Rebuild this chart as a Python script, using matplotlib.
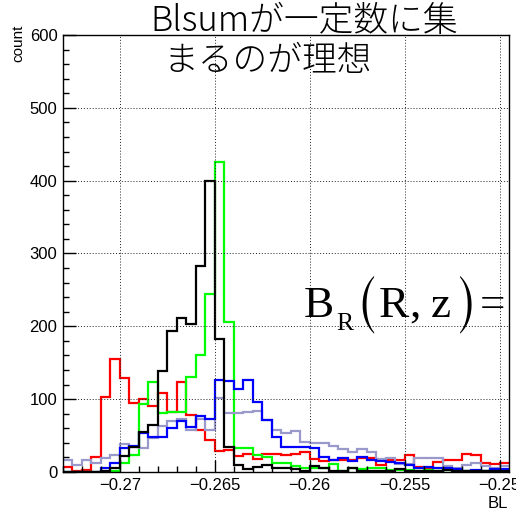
import numpy as np
import matplotlib
matplotlib.use("Agg")
import matplotlib.pyplot as plt
from matplotlib.ticker import MultipleLocator, FuncFormatter

# BL histograms, 0.0005 wide bins from -0.273 to -0.2495
bin_lo, bin_hi = -0.273, -0.2495

red = [7, 1, 3, 21, 103, 155, 129, 95, 100, 90,
       109, 83, 124, 78, 58, 44, 29, 30, 22, 25,
       18, 25, 25, 24, 25, 27, 18,
       15, 17, 17, 16, 19, 19, 10, 16, 17, 24, 7, 6, 14, 16, 16, 25, 24, 13, 11, 12]
green = [0, 0, 0, 0, 0, 1, 12, 23, 93, 123,
         81, 83, 83, 130, 160, 245, 425, 206, 33, 33,
         23, 20, 12, 12, 8, 5, 6,
         5, 11, 2, 5, 4, 6, 5, 3, 3, 3, 2, 3, 2, 3, 1, 2, 1, 2, 3, 1]
black = [0, 0, 0, 0, 1, 5, 22, 35, 55, 64,
         138, 193, 211, 203, 283, 400, 182, 34, 9, 4,
         7, 10, 5, 6, 4, 2, 8,
         6, 1, 1, 5, 2, 1, 1, 1, 4, 1, 1, 1, 1, 3, 1, 1, 2, 1, 1, 1]
blue = [0, 0, 0, 0, 5, 13, 33, 36, 53, 48,
        48, 61, 70, 62, 77, 73, 127, 125, 114, 127,
        96, 71, 48, 35, 34, 35, 33,
        21, 17, 19, 15, 21, 17, 15, 14, 12, 9, 6, 7, 6, 5, 4, 1, 3, 2, 4, 4]
lavender = [16, 9, 17, 12, 19, 23, 38, 34, 33, 47,
            63, 70, 73, 58, 73, 58, 101, 81, 81, 83,
            84, 71, 57, 53, 56, 41, 40,
            40, 36, 31, 27, 32, 28, 18, 19, 11, 11, 19, 19, 19, 8, 6, 10, 12, 8, 6, 8]

series = [(red, "#ff0000"), (green, "#00ff00"), (lavender, "#9999cc"),
          (blue, "#0000ff"), (black, "#000000")]

title_1 = "Blsumが一定数に集"
title_2 = "まるのが理想"

# formula pieces: text, font, left x (px), baseline y (px), size (pt)
serif = "Liberation Serif"
paren = "STIXSizeOneSym"
formula = [("B", serif, 304, 317, 32.6), ("R", serif, 336, 330, 18.5),
           ("(", paren, 355, 325, 34), ("R", serif, 379, 317, 32.6),
           (",", serif, 409, 317, 32.6), ("z", serif, 431, 317, 32.6),
           (")", paren, 456, 325, 34), ("=", serif, 480, 317, 32.6)]

plt.rcParams["font.family"] = ["Liberation Sans", "DejaVu Sans"]

W, H = 516, 514
fig = plt.figure(figsize=(W / 100, H / 100), dpi=100)
ax = fig.add_axes([63 / W, 1 - 472 / H, (509 - 63) / W, (472 - 35) / H])

edges = np.linspace(bin_lo, bin_hi, len(red) + 1)
for vals, col in series:
    ax.stairs(vals, edges, color=col, lw=1.6, baseline=None)

ax.set_xlim(bin_lo, bin_hi)
ax.set_ylim(0, 600)

ax.xaxis.set_major_locator(MultipleLocator(0.005))
ax.xaxis.set_minor_locator(MultipleLocator(0.001))
ax.yaxis.set_major_locator(MultipleLocator(100))
ax.yaxis.set_minor_locator(MultipleLocator(20))
ax.xaxis.set_major_formatter(FuncFormatter(lambda v, p: ("%g" % round(v, 4)).replace("-", "\u2212")))
ax.tick_params(which="both", direction="in", labelsize=12, width=1)
ax.tick_params(which="major", length=9)
ax.tick_params(which="minor", length=4.5)
ax.tick_params(axis="x", pad=4)
ax.tick_params(axis="y", pad=4)
ax.grid(True, which="major", color="#222222", lw=0.7, ls=(0, (1, 2)))
for s in ax.spines.values():
    s.set_linewidth(1)

fig.text(18 / W, 1 - 25 / H, "count", rotation=90, ha="center", va="top", fontsize=11)
fig.text(508 / W, 1 - 511 / H, "BL", ha="right", va="bottom", fontsize=12)

jp = ["Noto Sans CJK JP", "DejaVu Sans"]
fig.text(150 / W, 1 - 31 / H, title_1, family=jp, fontsize=25, fontweight="light",
         ha="left", va="baseline")
fig.text(163 / W, 1 - 71 / H, title_2, family=jp, fontsize=25, fontweight="light",
         ha="left", va="baseline")

for s, fam, x, y, size in formula:
    fig.text(x / W, 1 - y / H, s, family=[fam, "DejaVu Serif"], fontsize=size,
             ha="left", va="baseline")

fig.savefig("out.png", dpi=100)
